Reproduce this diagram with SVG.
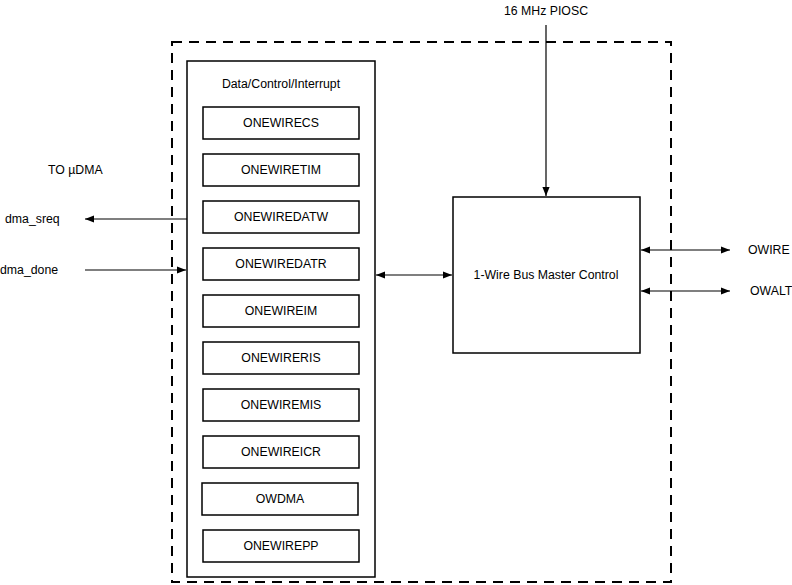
<svg xmlns="http://www.w3.org/2000/svg" width="792" height="585" viewBox="0 0 792 585">
<style>
text{font-family:"Liberation Sans",Arial,sans-serif;font-size:12.3px;fill:#000}
.c{text-anchor:middle}
.box{fill:#fff;stroke:#000;stroke-width:1.5}
.ln{stroke:#000;stroke-width:1.2;fill:none}
</style>
<defs>
<marker id="ah" viewBox="0 0 10 10" refX="10" refY="5" markerWidth="9" markerHeight="9" markerUnits="userSpaceOnUse" orient="auto-start-reverse"><path d="M0,1 L10,5 L0,9 z" fill="#000"/></marker>
</defs>
<rect id="boundary" x="172" y="42" width="499" height="540" fill="none" stroke="#000" stroke-width="2" stroke-dasharray="10,7"/>
<g id="dci">
<rect class="box" x="187" y="61" width="188" height="516"/>
<text class="c" x="281" y="88">Data/Control/Interrupt</text>
</g>
<g id="r1"><rect class="box" x="203" y="107" width="156" height="32"/><text class="c" x="281" y="127">ONEWIRECS</text></g>
<g id="r2"><rect class="box" x="203" y="154" width="156" height="32"/><text class="c" x="281" y="174">ONEWIRETIM</text></g>
<g id="r3"><rect class="box" x="203" y="201" width="156" height="32"/><text class="c" x="281" y="221">ONEWIREDATW</text></g>
<g id="r4"><rect class="box" x="203" y="248" width="156" height="32"/><text class="c" x="281" y="268">ONEWIREDATR</text></g>
<g id="r5"><rect class="box" x="203" y="295" width="156" height="32"/><text class="c" x="281" y="315">ONEWIREIM</text></g>
<g id="r6"><rect class="box" x="203" y="342" width="156" height="32"/><text class="c" x="281" y="362">ONEWIRERIS</text></g>
<g id="r7"><rect class="box" x="203" y="389" width="156" height="32"/><text class="c" x="281" y="409">ONEWIREMIS</text></g>
<g id="r8"><rect class="box" x="203" y="436" width="156" height="32"/><text class="c" x="281" y="456">ONEWIREICR</text></g>
<g id="r9"><rect class="box" x="202" y="483" width="156" height="32"/><text class="c" x="280" y="503">OWDMA</text></g>
<g id="r10"><rect class="box" x="203" y="530" width="156" height="32"/><text class="c" x="281" y="550">ONEWIREPP</text></g>
<g id="master"><rect class="box" x="453" y="197" width="187" height="156"/><text class="c" x="546" y="279">1-Wire Bus Master Control</text></g>
<g id="labels">
<text class="c" x="546" y="15">16 MHz PIOSC</text>
<text x="48" y="174">TO µDMA</text>
<text x="5" y="223">dma_sreq</text>
<text x="0" y="274">dma_done</text>
<text x="748" y="254">OWIRE</text>
<text x="750" y="295">OWALT</text>
</g>
<g id="connectors">
<line class="ln" x1="546" y1="25" x2="546" y2="196" marker-end="url(#ah)"/>
<line class="ln" x1="187" y1="219" x2="85" y2="219" marker-end="url(#ah)"/>
<line class="ln" x1="85" y1="270" x2="186" y2="270" marker-end="url(#ah)"/>
<line class="ln" x1="376" y1="275" x2="452" y2="275" marker-start="url(#ah)" marker-end="url(#ah)"/>
<line class="ln" x1="641" y1="250" x2="730" y2="250" marker-start="url(#ah)" marker-end="url(#ah)"/>
<line class="ln" x1="641" y1="291" x2="730" y2="291" marker-start="url(#ah)" marker-end="url(#ah)"/>
</g>
</svg>
